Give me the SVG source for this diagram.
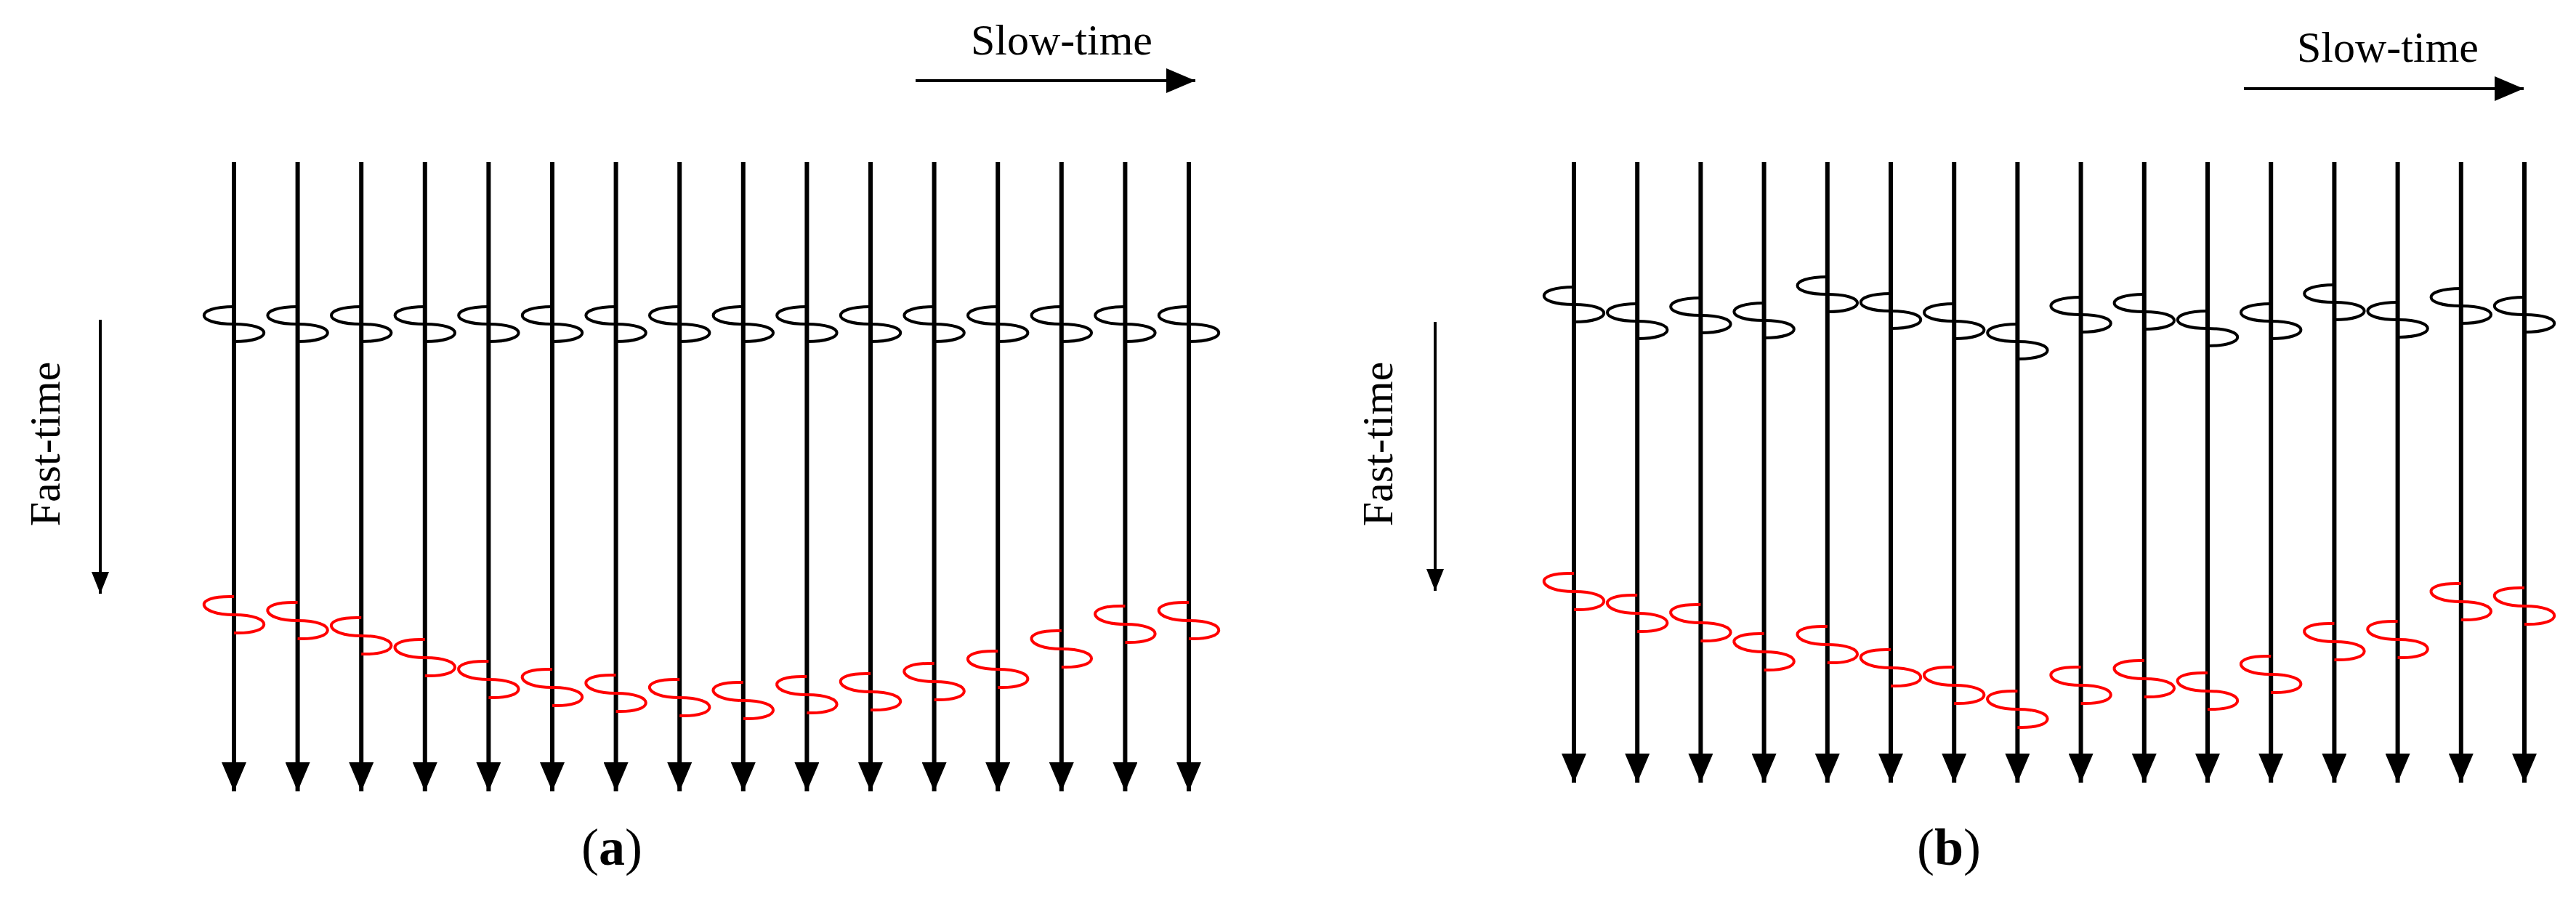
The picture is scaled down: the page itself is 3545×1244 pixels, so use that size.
<svg xmlns="http://www.w3.org/2000/svg" xmlns:xlink="http://www.w3.org/1999/xlink" width="3545" height="1244" viewBox="0 0 3545 1244">
<style>
.ln{stroke:#000;stroke-width:6;fill:none}
.ax{stroke:#000;stroke-width:4;fill:none}
.sb{stroke:#000;stroke-width:4;fill:none}
.sr{stroke:#f00;stroke-width:4;fill:none}
.t{font-family:"Liberation Serif",serif;font-size:60px;fill:#000}
.lab{font-family:"Liberation Serif",serif;font-size:72px;fill:#000}
</style>
<defs>
<path id="sq" d="M0,0 C-55,0 -55,24 0,24 C55,24 55,48 0,48"/>
<path id="sqr" d="M0,0 C-60,-2 -50,25 0,25 C55,25 55,52 0,50"/>
<marker id="ah" markerUnits="userSpaceOnUse" markerWidth="40" markerHeight="34" refX="40" refY="17" orient="auto"><path d="M0,0 L40,17 L0,34 Z" fill="#000"/></marker>
<marker id="as" markerUnits="userSpaceOnUse" markerWidth="30" markerHeight="24" refX="30" refY="12" orient="auto"><path d="M0,0 L30,12 L0,24 Z" fill="#000"/></marker>
</defs>
<g id="connectors">
<g id="a-lines">
<line class="ln" x1="322" y1="223" x2="322" y2="1089" marker-end="url(#ah)"/>
<line class="ln" x1="409.6" y1="223" x2="409.6" y2="1089" marker-end="url(#ah)"/>
<line class="ln" x1="497.2" y1="223" x2="497.2" y2="1089" marker-end="url(#ah)"/>
<line class="ln" x1="584.8" y1="223" x2="584.8" y2="1089" marker-end="url(#ah)"/>
<line class="ln" x1="672.4" y1="223" x2="672.4" y2="1089" marker-end="url(#ah)"/>
<line class="ln" x1="760" y1="223" x2="760" y2="1089" marker-end="url(#ah)"/>
<line class="ln" x1="847.6" y1="223" x2="847.6" y2="1089" marker-end="url(#ah)"/>
<line class="ln" x1="935.2" y1="223" x2="935.2" y2="1089" marker-end="url(#ah)"/>
<line class="ln" x1="1022.8" y1="223" x2="1022.8" y2="1089" marker-end="url(#ah)"/>
<line class="ln" x1="1110.4" y1="223" x2="1110.4" y2="1089" marker-end="url(#ah)"/>
<line class="ln" x1="1198" y1="223" x2="1198" y2="1089" marker-end="url(#ah)"/>
<line class="ln" x1="1285.6" y1="223" x2="1285.6" y2="1089" marker-end="url(#ah)"/>
<line class="ln" x1="1373.2" y1="223" x2="1373.2" y2="1089" marker-end="url(#ah)"/>
<line class="ln" x1="1460.8" y1="223" x2="1460.8" y2="1089" marker-end="url(#ah)"/>
<line class="ln" x1="1548.4" y1="223" x2="1548.4" y2="1089" marker-end="url(#ah)"/>
<line class="ln" x1="1636" y1="223" x2="1636" y2="1089" marker-end="url(#ah)"/>
</g>
<g id="b-lines">
<line class="ln" x1="2166" y1="223" x2="2166" y2="1077" marker-end="url(#ah)"/>
<line class="ln" x1="2253.2" y1="223" x2="2253.2" y2="1077" marker-end="url(#ah)"/>
<line class="ln" x1="2340.4" y1="223" x2="2340.4" y2="1077" marker-end="url(#ah)"/>
<line class="ln" x1="2427.6" y1="223" x2="2427.6" y2="1077" marker-end="url(#ah)"/>
<line class="ln" x1="2514.8" y1="223" x2="2514.8" y2="1077" marker-end="url(#ah)"/>
<line class="ln" x1="2602" y1="223" x2="2602" y2="1077" marker-end="url(#ah)"/>
<line class="ln" x1="2689.2" y1="223" x2="2689.2" y2="1077" marker-end="url(#ah)"/>
<line class="ln" x1="2776.4" y1="223" x2="2776.4" y2="1077" marker-end="url(#ah)"/>
<line class="ln" x1="2863.6" y1="223" x2="2863.6" y2="1077" marker-end="url(#ah)"/>
<line class="ln" x1="2950.8" y1="223" x2="2950.8" y2="1077" marker-end="url(#ah)"/>
<line class="ln" x1="3038" y1="223" x2="3038" y2="1077" marker-end="url(#ah)"/>
<line class="ln" x1="3125.2" y1="223" x2="3125.2" y2="1077" marker-end="url(#ah)"/>
<line class="ln" x1="3212.4" y1="223" x2="3212.4" y2="1077" marker-end="url(#ah)"/>
<line class="ln" x1="3299.6" y1="223" x2="3299.6" y2="1077" marker-end="url(#ah)"/>
<line class="ln" x1="3386.8" y1="223" x2="3386.8" y2="1077" marker-end="url(#ah)"/>
<line class="ln" x1="3474" y1="223" x2="3474" y2="1077" marker-end="url(#ah)"/>
</g>
<line class="ax" x1="1260" y1="111" x2="1645" y2="111" marker-end="url(#ah)"/>
<line class="ax" x1="3088" y1="122" x2="3473" y2="122" marker-end="url(#ah)"/>
<line class="ax" x1="138" y1="440" x2="138" y2="817" marker-end="url(#as)"/>
<line class="ax" x1="1975" y1="443" x2="1975" y2="813" marker-end="url(#as)"/>
</g>
<g id="a-black" class="sb">
<use xlink:href="#sq" x="322" y="422"/><use xlink:href="#sq" x="409.6" y="422"/><use xlink:href="#sq" x="497.2" y="422"/><use xlink:href="#sq" x="584.8" y="422"/>
<use xlink:href="#sq" x="672.4" y="422"/><use xlink:href="#sq" x="760" y="422"/><use xlink:href="#sq" x="847.6" y="422"/><use xlink:href="#sq" x="935.2" y="422"/>
<use xlink:href="#sq" x="1022.8" y="422"/><use xlink:href="#sq" x="1110.4" y="422"/><use xlink:href="#sq" x="1198" y="422"/><use xlink:href="#sq" x="1285.6" y="422"/>
<use xlink:href="#sq" x="1373.2" y="422"/><use xlink:href="#sq" x="1460.8" y="422"/><use xlink:href="#sq" x="1548.4" y="422"/><use xlink:href="#sq" x="1636" y="422"/>
</g>
<g id="a-red" class="sr">
<use xlink:href="#sqr" x="322" y="821"/><use xlink:href="#sqr" x="409.6" y="829"/><use xlink:href="#sqr" x="497.2" y="850"/><use xlink:href="#sqr" x="584.8" y="880"/>
<use xlink:href="#sqr" x="672.4" y="910"/><use xlink:href="#sqr" x="760" y="921"/><use xlink:href="#sqr" x="847.6" y="929"/><use xlink:href="#sqr" x="935.2" y="935"/>
<use xlink:href="#sqr" x="1022.8" y="939"/><use xlink:href="#sqr" x="1110.4" y="931"/><use xlink:href="#sqr" x="1198" y="927"/><use xlink:href="#sqr" x="1285.6" y="913"/>
<use xlink:href="#sqr" x="1373.2" y="896"/><use xlink:href="#sqr" x="1460.8" y="868"/><use xlink:href="#sqr" x="1548.4" y="834"/><use xlink:href="#sqr" x="1636" y="829"/>
</g>
<g id="b-black" class="sb">
<use xlink:href="#sq" x="2166" y="395"/><use xlink:href="#sq" x="2253.2" y="418"/><use xlink:href="#sq" x="2340.4" y="410"/><use xlink:href="#sq" x="2427.6" y="417"/>
<use xlink:href="#sq" x="2514.8" y="381"/><use xlink:href="#sq" x="2602" y="404"/><use xlink:href="#sq" x="2689.2" y="418"/><use xlink:href="#sq" x="2776.4" y="446"/>
<use xlink:href="#sq" x="2863.6" y="409"/><use xlink:href="#sq" x="2950.8" y="405"/><use xlink:href="#sq" x="3038" y="428"/><use xlink:href="#sq" x="3125.2" y="418"/>
<use xlink:href="#sq" x="3212.4" y="392"/><use xlink:href="#sq" x="3299.6" y="416"/><use xlink:href="#sq" x="3386.8" y="397"/><use xlink:href="#sq" x="3474" y="409"/>
</g>
<g id="b-red" class="sr">
<use xlink:href="#sqr" x="2166" y="789"/><use xlink:href="#sqr" x="2253.2" y="819"/><use xlink:href="#sqr" x="2340.4" y="832"/><use xlink:href="#sqr" x="2427.6" y="872"/>
<use xlink:href="#sqr" x="2514.8" y="862"/><use xlink:href="#sqr" x="2602" y="894"/><use xlink:href="#sqr" x="2689.2" y="918"/><use xlink:href="#sqr" x="2776.4" y="951"/>
<use xlink:href="#sqr" x="2863.6" y="918"/><use xlink:href="#sqr" x="2950.8" y="909"/><use xlink:href="#sqr" x="3038" y="926"/><use xlink:href="#sqr" x="3125.2" y="903"/>
<use xlink:href="#sqr" x="3212.4" y="858"/><use xlink:href="#sqr" x="3299.6" y="855"/><use xlink:href="#sqr" x="3386.8" y="803"/><use xlink:href="#sqr" x="3474" y="809"/>
</g>
<g id="texts">
<text class="t" x="1461" y="75" text-anchor="middle">Slow-time</text>
<text class="t" x="3286" y="85" text-anchor="middle">Slow-time</text>
<text class="t" text-anchor="middle" transform="translate(82,611) rotate(-90)">Fast-time</text>
<text class="t" text-anchor="middle" transform="translate(1916,611) rotate(-90)">Fast-time</text>
<text class="lab" x="842" y="1190" text-anchor="middle">(<tspan font-weight="bold">a</tspan>)</text>
<text class="lab" x="2682" y="1190" text-anchor="middle">(<tspan font-weight="bold">b</tspan>)</text>
</g>
</svg>
